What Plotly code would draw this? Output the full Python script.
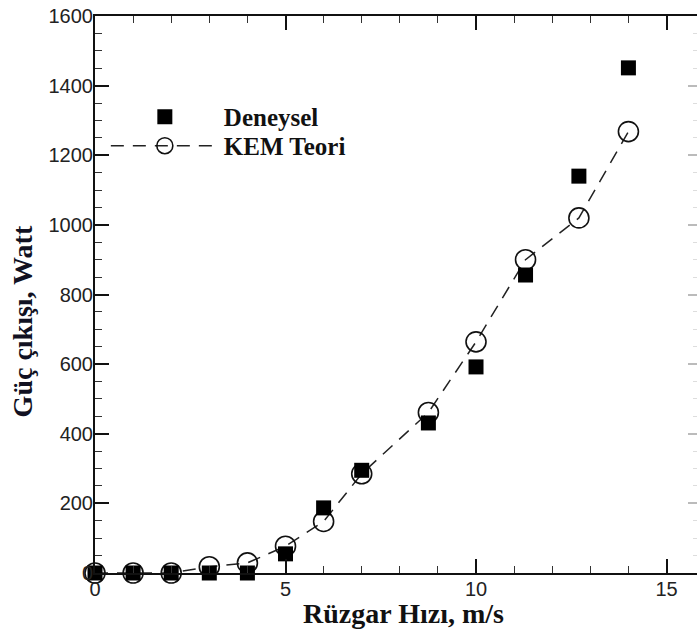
import plotly.graph_objects as go

wind_speed = [0, 1, 2, 3, 4, 5, 6, 7, 8.75, 10, 11.3, 12.7, 14]
deneysel = [0, 0, 0, 0, 0, 55, 187, 295, 431, 592, 856, 1140, 1451]
kem_teori = [0, 0, 0, 18, 29, 77, 148, 285, 461, 664, 900, 1020, 1268]

fig = go.Figure()
fig.add_trace(go.Scatter(
    x=wind_speed, y=kem_teori, name="<b>KEM Teori</b>", mode="lines+markers",
    line=dict(color="#222222", width=1.5, dash="13px,9px"),
    marker=dict(symbol="circle-open", size=20, color="#111111", line=dict(width=1.6)),
    cliponaxis=False, legend="legend2",
))
fig.add_trace(go.Scatter(
    x=wind_speed, y=deneysel, name="<b>Deneysel</b>", mode="markers",
    marker=dict(symbol="square", size=15, color="#000000"),
    cliponaxis=False, legend="legend",
))
# faint right axis
fig.add_trace(go.Scatter(x=[None], y=[None], yaxis="y2", showlegend=False, hoverinfo="skip"))

tickfont = dict(family="Liberation Sans, Arial", size=20, color="#222222")
serif = "Liberation Serif, Times New Roman"
legend_style = dict(xanchor="left", yanchor="top",
                    font=dict(family=serif, size=25, color="#111111"),
                    itemwidth=108, bgcolor="rgba(0,0,0,0)")
fig.update_layout(
    width=697, height=633,
    margin=dict(l=95, r=0, t=16, b=60, autoexpand=False),
    paper_bgcolor="white", plot_bgcolor="white",
    showlegend=True,
    legend=dict(x=0.018, y=0.86, **legend_style),
    legend2=dict(x=0.018, y=0.808, **legend_style),
    xaxis=dict(range=[0, 15.8], tickvals=[0, 5, 10, 15], ticks="inside", ticklen=14, tickwidth=2,
               tickcolor="#111111", showline=True, linewidth=2, linecolor="#111111",
               mirror="ticks", showgrid=False, zeroline=False, tickfont=tickfont,
               ticklabelstandoff=-3,
               minor=dict(dtick=1, ticks="inside", ticklen=7, tickwidth=1, tickcolor="#333333", showgrid=False)),
    yaxis=dict(range=[0, 1600], dtick=200, ticks="inside", ticklen=14, tickwidth=2,
               tickcolor="#111111", showline=True, linewidth=2, linecolor="#111111",
               showgrid=False, zeroline=False, tickfont=tickfont, ticklabelstandoff=-4,
               minor=dict(dtick=50, ticks="inside", ticklen=7, tickwidth=1, tickcolor="#333333", showgrid=False)),
    yaxis2=dict(range=[0, 1600], overlaying="y", side="right", dtick=200, ticks="inside", ticklen=9,
                tickwidth=2, tickcolor="#bbbbbb", showline=True, linewidth=1, linecolor="#dddddd",
                showticklabels=False, showgrid=False, zeroline=False,
                minor=dict(dtick=50, ticks="inside", ticklen=4, tickwidth=1, tickcolor="#dddddd")),
    annotations=[
        dict(text="<b>Güç çıkışı, Watt</b>", xref="paper", yref="paper", x=-0.121, y=0.452,
             xanchor="center", yanchor="middle", textangle=-90, showarrow=False,
             font=dict(family=serif, size=28, color="#111122")),
        dict(text="<b>Rüzgar Hızı, m/s</b>", xref="paper", yref="paper", x=0.512, y=-0.072,
             xanchor="center", yanchor="middle", showarrow=False,
             font=dict(family=serif, size=28, color="#111111")),
    ],
)
fig.write_html("out.html", config={"displayModeBar": False},
               post_script="document.body.style.margin='0px';")
